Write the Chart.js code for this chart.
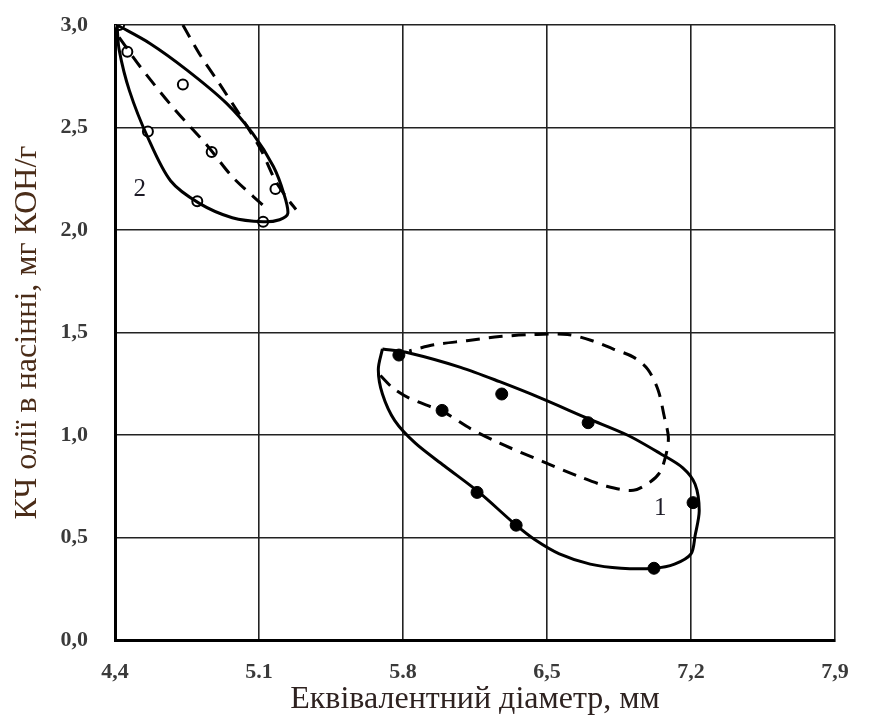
<!DOCTYPE html>
<html>
<head>
<meta charset="utf-8">
<script src="https://cdn.jsdelivr.net/npm/chart.js@4"></script>
<style>
  html, body { margin: 0; padding: 0; background: #fff; }
  #wrap { width: 878px; height: 719px; }
</style>
</head>
<body>
<div id="wrap"><canvas id="kchChart"></canvas></div>
<script>
// axis ticks
const xTicks = [4.4, 5.1, 5.8, 6.5, 7.2, 7.9];
const xTickLabels = ['4,4', '5.1', '5.8', '6,5', '7,2', '7,9'];
const yTicks = [0, 0.5, 1.0, 1.5, 2.0, 2.5, 3.0];
const yTickLabels = ['0,0', '0,5', '1,0', '1,5', '2,0', '2,5', '3,0'];

// group 1 (filled points)
const pts1X = [5.78, 5.99, 6.28, 6.70, 6.16, 6.35, 7.21, 7.02];
const pts1Y = [1.39, 1.12, 1.20, 1.06, 0.72, 0.56, 0.67, 0.35];
const loop1X = [5.70, 5.83, 6.08, 6.27, 6.47, 6.70, 6.89, 7.05, 7.16, 7.22, 7.24, 7.22, 7.20, 7.12, 7.02, 6.86, 6.71, 6.56, 6.44, 6.35, 6.17, 6.00, 5.86, 5.76, 5.70, 5.68, 5.70];
const loop1Y = [1.42, 1.40, 1.33, 1.26, 1.18, 1.08, 1.00, 0.91, 0.84, 0.76, 0.63, 0.51, 0.42, 0.37, 0.35, 0.35, 0.37, 0.42, 0.49, 0.56, 0.72, 0.85, 0.96, 1.07, 1.20, 1.32, 1.42];
const dash1X = [5.69, 5.75, 5.83, 6.00, 6.13, 6.27, 6.48, 6.65, 6.79, 6.92, 7.00, 7.05, 7.08, 7.09, 7.07, 7.04, 6.99, 6.92, 6.82, 6.72, 6.60, 6.43, 6.27, 6.11, 5.95, 5.83];
const dash1Y = [1.29, 1.23, 1.18, 1.11, 1.03, 0.96, 0.87, 0.80, 0.75, 0.73, 0.77, 0.82, 0.91, 0.99, 1.09, 1.22, 1.32, 1.38, 1.42, 1.46, 1.49, 1.49, 1.48, 1.46, 1.44, 1.41];

// group 2 (open points)
const pts2X = [4.42, 4.46, 4.56, 4.73, 4.87, 4.80, 5.12, 5.18];
const pts2Y = [3.00, 2.87, 2.48, 2.71, 2.38, 2.14, 2.04, 2.20];
const loop2X = [4.41, 4.57, 4.75, 4.94, 5.07, 5.17, 5.22, 5.24, 5.20, 5.12, 4.97, 4.81, 4.67, 4.56, 4.47, 4.42, 4.41];
const loop2Y = [3.00, 2.91, 2.78, 2.62, 2.47, 2.31, 2.18, 2.08, 2.05, 2.04, 2.06, 2.13, 2.24, 2.45, 2.68, 2.88, 3.00];
const dash2aX = [4.42, 4.52, 4.68, 4.85, 4.97, 5.12];
const dash2aY = [2.94, 2.80, 2.60, 2.41, 2.26, 2.12];
const dash2bX = [4.73, 4.81, 4.91, 5.02, 5.11, 5.18, 5.24, 5.28];
const dash2bY = [3.00, 2.86, 2.71, 2.54, 2.39, 2.24, 2.15, 2.10];

// curve labels
const labelText = ['1', '2'];
const labelX = [7.05, 4.52];
const labelY = [0.64, 2.20];

const toPts = (xs, ys) => xs.map((x, i) => ({ x: x, y: ys[i] }));

function curve(xs, ys, dashed) {
    return {
        data: toPts(xs, ys),
        showLine: true,
        borderColor: '#000',
        borderWidth: 3,
        borderDash: dashed ? [14, 9] : [],
        tension: 0.3,
        pointRadius: 0,
        fill: false
    };
}

const serif = "'Liberation Serif', 'Times New Roman', serif";

const curveLabels = {
    id: 'curveLabels',
    afterDatasetsDraw(chart) {
        const { ctx, scales } = chart;
        ctx.save();
        ctx.font = '25px ' + serif;
        ctx.fillStyle = '#1c1a26';
        ctx.textAlign = 'center';
        ctx.textBaseline = 'middle';
        labelText.forEach((t, i) => {
            ctx.fillText(t, scales.x.getPixelForValue(labelX[i]), scales.y.getPixelForValue(labelY[i]));
        });
        ctx.restore();
    }
};

const chart = new Chart(document.getElementById('kchChart'), {
    type: 'scatter',
    data: {
        datasets: [
            curve(loop1X, loop1Y, false),
            curve(dash1X, dash1Y, true),
            curve(loop2X, loop2Y, false),
            curve(dash2aX, dash2aY, true),
            curve(dash2bX, dash2bY, true),
            {
                data: toPts(pts1X, pts1Y),
                pointRadius: 6,
                pointBackgroundColor: '#000',
                pointBorderColor: '#000',
                showLine: false
            },
            {
                data: toPts(pts2X, pts2Y),
                pointRadius: 5,
                pointBackgroundColor: '#fff',
                pointBorderColor: '#000',
                pointBorderWidth: 2,
                showLine: false
            }
        ]
    },
    options: {
        responsive: true,
        maintainAspectRatio: false,
        animation: false,
        layout: { padding: { top: 25, right: 43, left: 0, bottom: 0 } },
        plugins: {
            legend: { display: false },
            tooltip: { enabled: false }
        },
        scales: {
            x: {
                type: 'linear',
                min: 4.4,
                max: 7.9,
                afterBuildTicks: s => { s.ticks = xTicks.map(v => ({ value: v })); },
                afterFit: s => { s.height = 79; s.paddingLeft = 0; s.paddingRight = 0; },
                grid: { color: '#222', lineWidth: 1.6, drawTicks: false },
                border: { color: '#000', width: 3 },
                ticks: {
                    padding: 19,
                    color: '#3a3a3a',
                    font: { family: serif, size: 22, weight: 'bold' },
                    callback: (v, i) => xTickLabels[i]
                },
                title: {
                    display: true,
                    text: 'Еквівалентний діаметр, мм',
                    color: '#2e2220',
                    font: { family: serif, size: 32 },
                    padding: { top: 0, bottom: 0 }
                }
            },
            y: {
                type: 'linear',
                min: 0,
                max: 3,
                afterBuildTicks: s => { s.ticks = yTicks.map(v => ({ value: v })); },
                afterFit: s => { s.width = 115; s.paddingTop = 0; s.paddingBottom = 0; },
                grid: { color: '#222', lineWidth: 1.6, drawTicks: false },
                border: { color: '#000', width: 3 },
                ticks: {
                    padding: 27,
                    color: '#3a3a3a',
                    font: { family: serif, size: 22, weight: 'bold' },
                    callback: (v, i) => yTickLabels[i]
                },
                title: {
                    display: true,
                    text: 'КЧ олії в насінні, мг КОН/г',
                    color: '#4a2c18',
                    font: { family: serif, size: 32 },
                    padding: { top: 8, bottom: 0 }
                }
            }
        }
    },
    plugins: [curveLabels]
});
</script>
</body>
</html>
